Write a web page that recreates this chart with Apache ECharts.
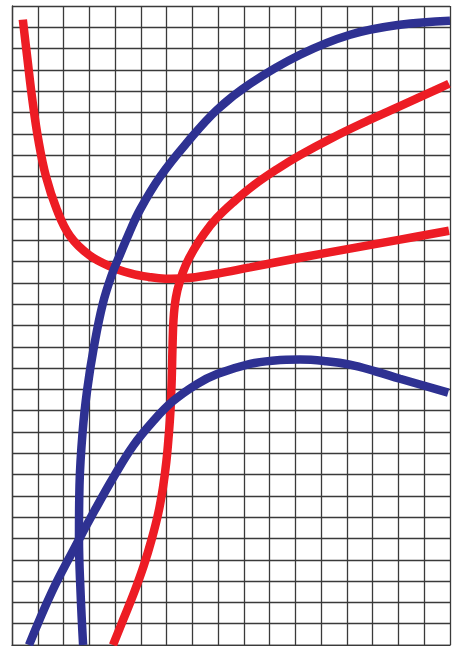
<!DOCTYPE html>
<html>
<head>
<meta charset="utf-8">
<script src="https://cdn.jsdelivr.net/npm/echarts@6/dist/echarts.min.js"></script>
<style>
  html, body { margin: 0; padding: 0; background: #fff; }
  #chart { width: 461px; height: 646px; }
</style>
</head>
<body>
<div id="chart"></div>
<script>
// grid units: 17 columns x 30 rows, y counted up from bottom
var xCells = 17;
var yCells = 30;

// red curve coming down from the top left, bottoming out, then rising slowly
var redDip = [[0.42,29.36],[0.60,27.5],[0.79,25.6],[1.02,23.73],[1.32,21.99],[1.74,20.44],[2.25,19.2],
  [3.0,18.3],[3.8,17.78],[4.6,17.45],[5.3,17.28],[5.95,17.2],[6.7,17.22],[7.9,17.42],[9.24,17.73],
  [11.18,18.18],[13.12,18.61],[15.06,19.03],[16.96,19.45]];

// red curve rising from the bottom, nearly vertical, then bending off to the right
var redRise = [[3.92,0.0],[4.32,1.2],[4.75,2.5],[5.12,3.75],[5.43,5.0],[5.68,6.2],[5.86,7.4],[5.99,8.6],
  [6.08,9.8],[6.15,11.0],[6.20,12.5],[6.23,14.0],[6.27,15.3],[6.36,16.3],[6.52,17.1],[6.75,17.85],
  [7.05,18.55],[7.45,19.3],[7.95,20.05],[8.6,20.8],[9.4,21.6],[10.3,22.35],[11.18,23.0],[12.46,23.83],
  [13.78,24.6],[15.06,25.3],[16.34,26.0],[16.96,26.35]];

// blue big arc from the bottom up to the top right
var blueHigh = [[2.76,0.0],[2.66,2.5],[2.60,5.0],[2.62,7.5],[2.74,10.0],[2.92,12.0],[3.18,14.0],[3.52,16.0],
  [3.88,17.4],[4.2,18.35],[4.53,19.3],[4.97,20.44],[5.75,21.99],[6.79,23.58],[7.96,25.13],[9.24,26.35],
  [11.18,27.71],[13.12,28.65],[15.06,29.12],[17.0,29.31]];

// blue lower arc, peaks in the middle right and drops off
var blueLow = [[0.66,0.0],[1.55,2.5],[2.4,4.5],[3.2,6.3],[3.95,7.9],[4.7,9.35],[5.47,10.5],[6.25,11.45],
  [7.18,12.25],[7.96,12.72],[9.24,13.2],[10.2,13.36],[11.18,13.4],[12.2,13.32],[13.12,13.16],[14.1,12.85],
  [15.06,12.5],[16.93,11.85]];

var gridColor = '#3a3a3a';
var red = '#ED1C24';
var blue = '#2E3192';

function axis(max) {
  return {
    type: 'value',
    min: 0,
    max: max,
    interval: 1,
    axisLine: { show: true, lineStyle: { color: gridColor, width: 1.3 } },
    axisTick: { show: false },
    axisLabel: { show: false },
    splitLine: { show: true, lineStyle: { color: gridColor, width: 1.3 } }
  };
}

function curve(data, color) {
  return {
    type: 'line',
    data: data,
    smooth: 0.4,
    showSymbol: false,
    symbol: 'none',
    lineStyle: { color: color, width: 8.5, cap: 'butt' },
    clip: true
  };
}

var chart = echarts.init(document.getElementById('chart'));
chart.setOption({
  animation: false,
  grid: { left: 12, right: 11, top: 6, bottom: 1 },
  xAxis: axis(xCells),
  yAxis: axis(yCells),
  series: [
    curve(redDip, red),
    curve(redRise, red),
    curve(blueHigh, blue),
    curve(blueLow, blue)
  ]
});
</script>
</body>
</html>
